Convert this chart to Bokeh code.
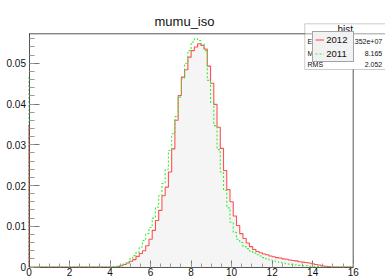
from bokeh.plotting import figure
from bokeh.models import (Range1d, SingleIntervalTicker, Legend, LegendItem,
                          BoxAnnotation, Label)
from bokeh.embed import file_html
from bokeh.resources import INLINE

# ---------------- data ----------------
title_text = "mumu_iso"
bin_lo, bin_hi, n_bins = 0.0, 16.0, 100
y_max = 0.05723

series_labels = ["2012", "2011"]

h2012 = [0.0] * 27 + [
    0.0001, 0.0003, 0.0006, 0.0010, 0.0014, 0.0018, 0.0026, 0.0033, 0.0040, 0.0052,
    0.0068, 0.0090, 0.0114, 0.0139, 0.0175, 0.0196, 0.0233, 0.0290, 0.0360, 0.0421,
    0.0466, 0.0484, 0.0515, 0.0531, 0.0540, 0.0548, 0.0544, 0.0535, 0.0493, 0.0451,
    0.0399, 0.0343, 0.0291, 0.0237, 0.0190, 0.0160, 0.0125, 0.0102, 0.0082, 0.0070,
    0.0059, 0.0050, 0.0043, 0.0038, 0.0035, 0.0032, 0.0030, 0.0027, 0.0025, 0.0023,
    0.0022, 0.0020, 0.0019, 0.0017, 0.0016, 0.0015, 0.0013, 0.0012, 0.0011, 0.0010,
    0.0008, 0.0006, 0.0005, 0.0003, 0.0002, 0.0001] + [0.0] * 7

h2011 = [0.0] * 26 + [
    0.0001, 0.0002, 0.0004, 0.0007, 0.0012, 0.0020, 0.0028, 0.0036, 0.0049, 0.0065,
    0.0082, 0.0097, 0.0120, 0.0147, 0.0175, 0.0205, 0.0240, 0.0286, 0.0327, 0.0369,
    0.0417, 0.0462, 0.0500, 0.0531, 0.0552, 0.0560, 0.0556, 0.0548, 0.0531, 0.0458,
    0.0404, 0.0347, 0.0288, 0.0233, 0.0188, 0.0145, 0.0110, 0.0085, 0.0068, 0.0060,
    0.0050, 0.0045, 0.0039, 0.0034, 0.0030, 0.0027, 0.0023, 0.0020, 0.0017, 0.0015,
    0.0013, 0.0011, 0.0010, 0.0008, 0.0007, 0.0006, 0.0005, 0.0004, 0.0003, 0.0003,
    0.0002, 0.0002, 0.0001, 0.0001] + [0.0] * 10

# outline stubs drawn at the first bin edge in the original
edge_stub_2012 = 0.035
edge_stub_2011 = 0.047

stats_title = "hist"
stats_names = ["Entries", "Mean", "RMS"]
stats_values = ["1.352e+07", "8.165", "2.052"]

x_tick_step = 2
y_tick_step = 0.01

# ---------------- layout (canvas pixels) ----------------
W, H = 385, 277
FL, FR, FT, FB = 28.5, 352.7, 33.3, 266.5     # ROOT frame inside the canvas
FONT = "Liberation Sans"

sx = (FR - FL) / (bin_hi - bin_lo)            # px per x unit
sy = (FB - FT) / y_max                        # px per y unit
x_start = bin_lo - FL / sx
x_end = bin_lo + (W - FL) / sx
y_start = -(H - FB) / sy
y_end = FB / sy

def dx(fx):
    return bin_lo + (fx - FL) / sx

def dy(fy):
    return (FB - fy) / sy

p = figure(width=W, height=H, output_backend="svg", toolbar_location=None,
           x_range=Range1d(x_start, x_end), y_range=Range1d(y_start, y_end),
           min_border=0, min_border_left=0, min_border_right=0,
           min_border_top=0, min_border_bottom=0)
p.background_fill_color = "white"
p.border_fill_color = "white"
p.grid.visible = False
p.outline_line_color = None

for ax, step, nminor, tin, tmin, bnds, stand in (
        (p.xaxis[0], x_tick_step, 4, 7, 4, (bin_lo, bin_hi), 1),
        (p.yaxis[0], y_tick_step, 5, 10, 5, (0, y_max), 3)):
    ax.ticker = SingleIntervalTicker(interval=step, num_minor_ticks=nminor)
    ax.fixed_location = 0
    ax.bounds = bnds
    ax.major_tick_in = tin
    ax.major_tick_out = 0
    ax.minor_tick_in = tmin
    ax.minor_tick_out = 0
    ax.axis_line_color = "#555555"
    ax.major_tick_line_color = "#777777"
    ax.minor_tick_line_color = "#999999"
    ax.major_label_text_font = FONT
    ax.major_label_text_font_size = "10px"
    ax.major_label_text_color = "#111111"
    ax.major_label_standoff = stand

p.yaxis[0].major_label_overrides = {0: "0"}

# ---------------- histograms ----------------
edges = [bin_lo + (bin_hi - bin_lo) * i / n_bins for i in range(n_bins + 1)]
y12 = h2012 + [h2012[-1]]
y11 = h2011 + [h2011[-1]]

p.varea_step(x=edges, y1=[0] * len(edges), y2=y12, step_mode="after",
             fill_color="#f5f5f5")
r12 = p.step(x=edges, y=y12, mode="after", line_color="#ff3333",
             line_width=1.1, line_alpha=0.85)
r11 = p.step(x=edges, y=y11, mode="after", line_color="#33ee33",
             line_width=1.1, line_dash="2 2")
p.segment(x0=[bin_lo], y0=[0], x1=[bin_lo], y1=[edge_stub_2011],
          line_color="#33ee33", line_width=1.1, line_dash="2 2")
p.segment(x0=[bin_lo], y0=[0], x1=[bin_lo], y1=[edge_stub_2012],
          line_color="#ff3333", line_width=1.1, line_alpha=0.85)

# ROOT frame: top and right edges
p.segment(x0=[bin_lo, bin_hi], y0=[y_max, 0], x1=[bin_hi, bin_hi],
          y1=[y_max, y_max], line_color="#555555", line_width=1)

# ---------------- title ----------------
p.add_layout(Label(x=dx(184), y=dy(21), text=title_text, text_font=FONT,
                   text_font_size="13px", text_align="center",
                   text_baseline="alphabetic", text_color="#111111"))

# ---------------- stats box ----------------
p.add_layout(BoxAnnotation(left=dx(304.3), right=dx(386), top=dy(23.3),
                           bottom=dy(69), fill_color="white", fill_alpha=1,
                           line_color="#555555", line_width=1))
p.add_layout(BoxAnnotation(left=dx(304.3), right=dx(386), top=dy(33.3),
                           bottom=dy(33.3), fill_alpha=0,
                           line_color="#555555", line_width=1))
p.add_layout(Label(x=dx(344.7), y=dy(28.5), text=stats_title, text_font=FONT,
                   text_font_size="10px", text_align="center",
                   text_baseline="middle", text_color="#111111"))
row_y = [40.7, 52.7, 64.0]
for name, val, ry in zip(stats_names, stats_values, row_y):
    p.add_layout(Label(x=dx(307), y=dy(ry), text=name, text_font=FONT,
                       text_font_size="7px", text_align="left",
                       text_baseline="middle", text_color="#111111"))
    p.add_layout(Label(x=dx(381.7), y=dy(ry), text=val, text_font=FONT,
                       text_font_size="7px", text_align="right",
                       text_baseline="middle", text_color="#111111"))

# ---------------- legend ----------------
legend = Legend(items=[LegendItem(label=series_labels[0], renderers=[r12]),
                       LegendItem(label=series_labels[1], renderers=[r11])],
                location=(312.3, H - 62.3), margin=0, padding=2, spacing=3,
                glyph_width=9, glyph_height=11, label_height=11, label_width=25,
                label_standoff=2, label_text_font=FONT,
                label_text_font_size="9.5px", label_text_color="#111111",
                border_line_color="#555555", border_line_width=1,
                background_fill_color="#f2f2f2", background_fill_alpha=1)
p.add_layout(legend, "center")

open("out.html", "w").write(file_html(p, INLINE))
